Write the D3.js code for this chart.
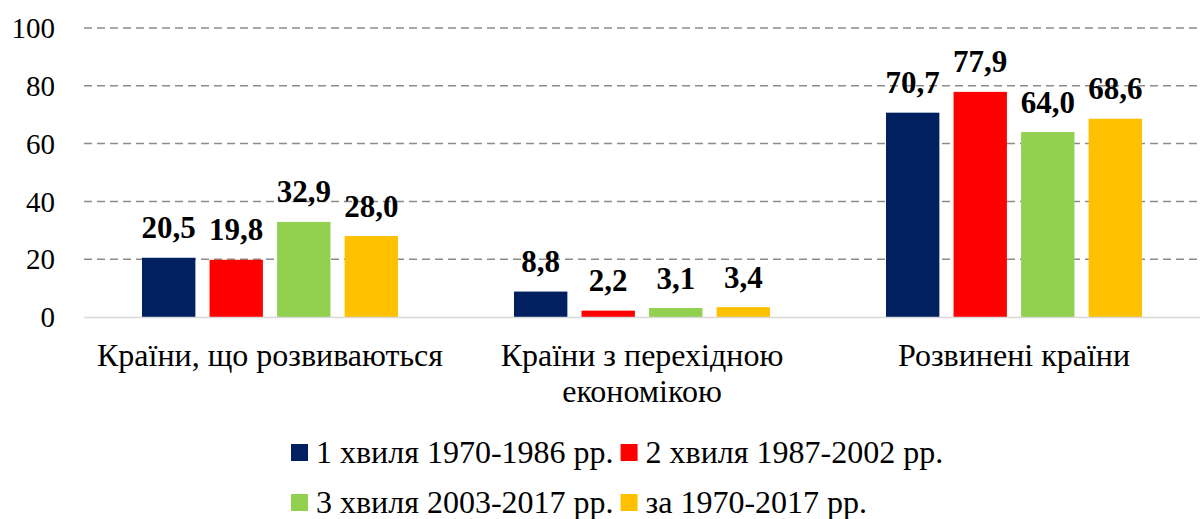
<!DOCTYPE html>
<html>
<head>
<meta charset="utf-8">
<script src="https://cdn.jsdelivr.net/npm/d3@7"></script>
<style>
  body { margin: 0; background: #fff; }
</style>
</head>
<body>
<svg id="chart" width="1202" height="519"></svg>
<script>
var categories = ["Країни, що розвиваються", "Країни з перехідною економікою", "Розвинені країни"];
var seriesNames = ["1 хвиля 1970-1986 рр.", "2 хвиля 1987-2002 рр.", "3 хвиля 2003-2017 рр.", "за 1970-2017 рр."];
var wave1 = [20.5, 8.8, 70.7];
var wave2 = [19.8, 2.2, 77.9];
var wave3 = [32.9, 3.1, 64.0];
var total = [28.0, 3.4, 68.6];
var yTicks = [0, 20, 40, 60, 80, 100];

var seriesValues = [wave1, wave2, wave3, total];
var colors = ["#002060", "#ff0000", "#92d050", "#ffc000"];
var FONT = "'Liberation Serif'";

var svg = d3.select("#chart");
var plot = { left: 84, right: 1200, top: 28, bottom: 317 };

var x0 = d3.scaleBand().domain(categories).range([plot.left, plot.right]);
var x1 = d3.scaleBand().domain(d3.range(seriesNames.length))
  .range([58, 314]).paddingInner(0.21);
var y = d3.scaleLinear().domain([0, 100]).range([plot.bottom, plot.top]);

var fmt = function (v) { return d3.format(".1f")(v).replace(".", ","); };

// gridlines
svg.append("g").selectAll("line")
  .data(yTicks.filter(function (d) { return d > 0; }))
  .join("line")
  .attr("x1", plot.left).attr("x2", plot.right)
  .attr("y1", function (d) { return y(d); }).attr("y2", function (d) { return y(d); })
  .attr("stroke", "#8c8c8c").attr("stroke-width", 1.5)
  .attr("stroke-dasharray", "8,5");

// y labels
svg.append("g").selectAll("text")
  .data(yTicks)
  .join("text")
  .attr("x", 55).attr("y", function (d) { return y(d); })
  .attr("dy", "0.35em")
  .attr("text-anchor", "end")
  .style("font-family", FONT)
  .style("font-size", "29px")
  .text(function (d) { return d; });

// bars
var data = [];
seriesValues.forEach(function (vals, s) {
  vals.forEach(function (v, c) {
    data.push({ s: s, c: categories[c], v: v });
  });
});

svg.append("g").selectAll("rect")
  .data(data)
  .join("rect")
  .attr("x", function (d) { return x0(d.c) + x1(d.s); })
  .attr("y", function (d) { return y(d.v); })
  .attr("width", x1.bandwidth())
  .attr("height", function (d) { return y(0) - y(d.v); })
  .style("fill", function (d) { return colors[d.s]; });

svg.append("g").selectAll("text")
  .data(data)
  .join("text")
  .attr("x", function (d) { return x0(d.c) + x1(d.s) + x1.bandwidth() / 2; })
  .attr("y", function (d) { return y(d.v) - 19.5; })
  .attr("text-anchor", "middle")
  .style("font-family", FONT)
  .style("font-size", "31px").style("font-weight", "bold")
  .text(function (d) { return fmt(d.v); });

// axis line
svg.append("line")
  .attr("x1", plot.left).attr("x2", plot.right)
  .attr("y1", y(0) + 0.5).attr("y2", y(0) + 0.5)
  .attr("stroke", "#d9d9d9").attr("stroke-width", 1.5);

// category labels (wrapped)
var catG = svg.append("g");
categories.forEach(function (c) {
  var cx = x0(c) + x0.bandwidth() / 2;
  var t = catG.append("text")
    .attr("x", cx)
    .attr("y", 366)
    .attr("text-anchor", "middle")
    .style("font-family", FONT)
    .style("font-size", "32px");
  var words = c.split(" "), line = [];
  var ts = t.append("tspan").attr("x", cx).attr("dy", 0);
  words.forEach(function (w) {
    line.push(w);
    ts.text(line.join(" "));
    if (ts.node().getComputedTextLength() > 360 && line.length > 1) {
      line.pop();
      ts.text(line.join(" "));
      line = [w];
      ts = t.append("tspan").attr("x", cx).attr("dy", 36).text(w);
    }
  });
});

// legend
var legendRows = [[0, 1], [2, 3]];
legendRows.forEach(function (row, r) {
  var lx = 291;
  var ly = 463 + r * 50;
  row.forEach(function (s) {
    svg.append("rect")
      .attr("x", lx).attr("y", ly - 19)
      .attr("width", 17).attr("height", 17)
      .style("fill", colors[s]);
    var t = svg.append("text")
      .attr("x", lx + 25).attr("y", ly)
      .style("font-family", FONT)
      .style("font-size", "32px")
      .text(seriesNames[s]);
    lx += 25 + t.node().getComputedTextLength() + 7;
  });
});
</script>
</body>
</html>
